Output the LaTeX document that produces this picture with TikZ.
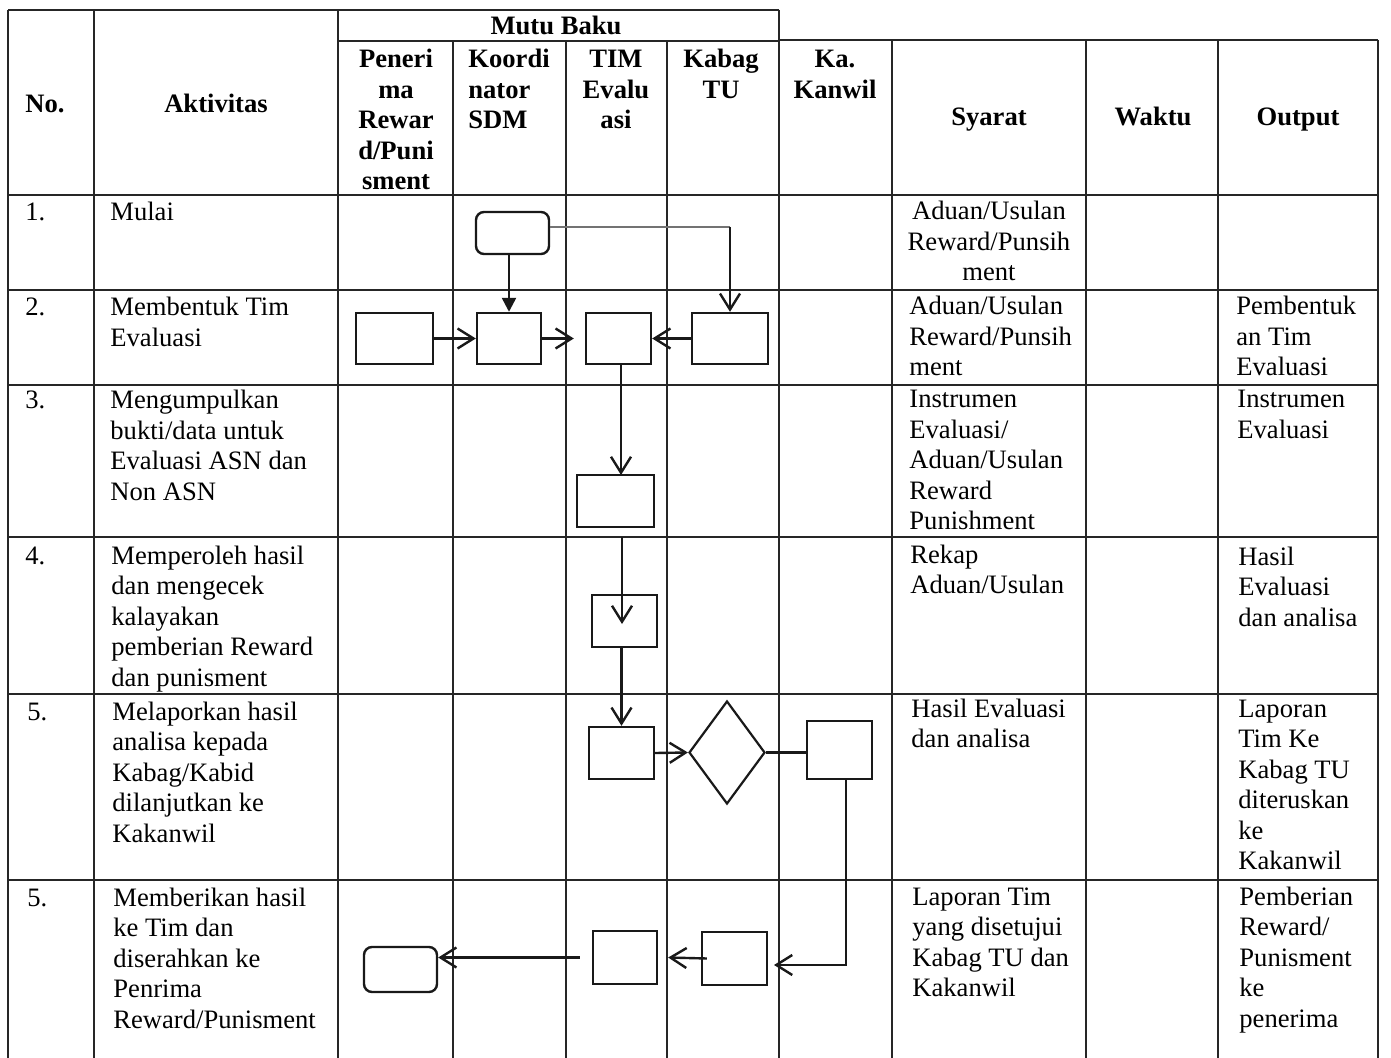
\documentclass[tikz,border=0pt]{standalone}
\usepackage{fontspec}
\setmainfont{Liberation Serif}
\usetikzlibrary{arrows.meta,shapes.geometric}
\newcommand\cl[1]{\begin{tabular}[t]{@{}l@{}}#1\end{tabular}}
\newcommand\cc[1]{\begin{tabular}[t]{@{}c@{}}#1\end{tabular}}
\begin{document}
\begin{tikzpicture}[x=0.5pt,y=-0.5pt,
  grid/.style={line width=0.8pt, draw=black!85},
  txt/.style={inner sep=0pt, font=\fontsize{13.3}{15.25}\selectfont, text=black},
  hd/.style={inner sep=0pt, font=\fontsize{13.3}{15.25}\selectfont\bfseries, text=black},
  proc/.style={draw=black!90, line width=1.2pt, inner sep=0pt, rectangle},
  term/.style={proc, rounded corners=4pt},
  dec/.style={draw=black!90, line width=1.1pt, inner sep=0pt, diamond},
  arr/.style={draw=black!90, line width=1.2pt, -{Straight Barb[length=8pt,width=10pt]}},
  arrf/.style={draw=black!90, line width=1.2pt, -{Triangle[length=7pt,width=7pt]}},
  ln/.style={draw=black!90, line width=1.2pt},
  thin/.style={draw=black!55, line width=0.6pt}]
\useasboundingbox (0,0) rectangle (1391,1058);
\fill[white] (0,0) rectangle (1391,1058);
% ---------------- table grid ----------------
\foreach \x in {8,94,338,779} \draw[grid] (\x,10) -- (\x,1058);
\foreach \x in {453,566,667} \draw[grid] (\x,41) -- (\x,1058);
\foreach \x in {892,1086,1218,1378} \draw[grid] (\x,40) -- (\x,1058);
\draw[grid] (8,10) -- (779,10);
\draw[grid] (779,40) -- (1378,40);
\draw[grid] (338,41) -- (779,41);
\foreach \y in {195,290,385,537,694,880} \draw[grid] (8,\y) -- (1378,\y);
% ---------------- header ----------------
\node[hd, anchor=base] (hmutu) at (556,35) {Mutu Baku};
\node[hd, anchor=base west] (hno) at (25,113) {No.};
\node[hd, anchor=base] (hakt) at (216,113) {Aktivitas};
\node[hd, anchor=base] (hpen) at (396,68) {\cc{Peneri\\ma\\Rewar\\d/Puni\\sment}};
\node[hd, anchor=base west] (hkoo) at (468,68) {\cl{Koordi\\nator\\SDM}};
\node[hd, anchor=base] (htim) at (616,68) {\cc{TIM\\Evalu\\asi}};
\node[hd, anchor=base] (hkab) at (721,68) {\cc{Kabag\\TU}};
\node[hd, anchor=base] (hkan) at (835,68) {\cc{Ka.\\Kanwil}};
\node[hd, anchor=base] (hsya) at (989,126) {Syarat};
\node[hd, anchor=base] (hwak) at (1153,126) {Waktu};
\node[hd, anchor=base] (hout) at (1298,126) {Output};
% ---------------- No. ----------------
\node[txt, anchor=base west] (n1) at (25,221) {1.};
\node[txt, anchor=base west] (n2) at (25,316) {2.};
\node[txt, anchor=base west] (n3) at (25,409) {3.};
\node[txt, anchor=base west] (n4) at (25,564) {4.};
\node[txt, anchor=base west] (n5) at (27,720) {5.};
\node[txt, anchor=base west] (n6) at (27,906) {5.};
% ---------------- Aktivitas ----------------
\node[txt, anchor=base west] (a1) at (110,221) {Mulai};
\node[txt, anchor=base west] (a2) at (110,316) {\cl{Membentuk Tim\\Evaluasi}};
\node[txt, anchor=base west] (a3) at (110,409) {\cl{Mengumpulkan\\bukti/data untuk\\Evaluasi ASN dan\\Non ASN}};
\node[txt, anchor=base west] (a4) at (111,564) {\cl{Memperoleh hasil\\dan mengecek\\kalayakan\\pemberian Reward\\dan punisment}};
\node[txt, anchor=base west] (a5) at (112,720) {\cl{Melaporkan hasil\\analisa kepada\\Kabag/Kabid\\dilanjutkan ke\\Kakanwil}};
\node[txt, anchor=base west] (a6) at (113,906) {\cl{Memberikan hasil\\ke Tim dan\\diserahkan ke\\Penrima\\Reward/Punisment}};
% ---------------- Syarat ----------------
\node[txt, anchor=base] (s1) at (989,220) {\cc{Aduan/Usulan\\Reward/Punsih\\ment}};
\node[txt, anchor=base west] (s2) at (909,315) {\cl{Aduan/Usulan\\Reward/Punsih\\ment}};
\node[txt, anchor=base west] (s3) at (909,408) {\cl{Instrumen\\Evaluasi/\\Aduan/Usulan\\Reward\\Punishment}};
\node[txt, anchor=base west] (s4) at (910,563) {\cl{Rekap\\Aduan/Usulan}};
\node[txt, anchor=base west] (s5) at (911,717) {\cl{Hasil Evaluasi\\dan analisa}};
\node[txt, anchor=base west] (s6) at (912,905) {\cl{Laporan Tim\\yang disetujui\\Kabag TU dan\\Kakanwil}};
% ---------------- Output ----------------
\node[txt, anchor=base west] (o2) at (1236,315) {\cl{Pembentuk\\an Tim\\Evaluasi}};
\node[txt, anchor=base west] (o3) at (1237,408) {\cl{Instrumen\\Evaluasi}};
\node[txt, anchor=base west] (o4) at (1238,565) {\cl{Hasil\\Evaluasi\\dan analisa}};
\node[txt, anchor=base west] (o5) at (1238,717) {\cl{Laporan\\Tim Ke\\Kabag TU\\diteruskan\\ke\\Kakanwil}};
\node[txt, anchor=base west] (o6) at (1239,905) {\cl{Pemberian\\Reward/\\Punisment\\ke\\penerima}};
% ---------------- flow shapes ----------------
\node[term, minimum width=36.5pt, minimum height=21pt] (start) at (512.5,233) {};
\node[proc, minimum width=38.5pt, minimum height=25.5pt] (A) at (394.5,338.5) {};
\node[proc, minimum width=32pt, minimum height=25.5pt] (B) at (509,338.5) {};
\node[proc, minimum width=32.5pt, minimum height=25.5pt] (C) at (618.5,338.5) {};
\node[proc, minimum width=38pt, minimum height=25.5pt] (D) at (730,338.5) {};
\node[proc, minimum width=38.5pt, minimum height=26pt] (E) at (615.5,501) {};
\node[proc, minimum width=32.5pt, minimum height=26pt] (F) at (624.5,621) {};
\node[proc, minimum width=32.5pt, minimum height=26pt] (G) at (621.5,753) {};
\node[dec, minimum width=38pt, minimum height=51.5pt] (dia) at (727,752.5) {};
\node[proc, minimum width=32.5pt, minimum height=29pt] (H) at (839.5,750) {};
\node[proc, minimum width=32.5pt, minimum height=26.5pt] (I) at (734.5,958.5) {};
\node[proc, minimum width=32pt, minimum height=26.5pt] (J) at (625,957.5) {};
\node[term, minimum width=36.5pt, minimum height=22.5pt] (K) at (400.5,969.5) {};
% ---------------- connectors ----------------
\coordinate (turn) at (730,227);
\draw[thin] (start.east |- turn) -- (turn);
\draw[arr] (turn) -- (D.north);
\draw[arrf] (start.south -| B.north) -- (B.north);
\draw[arr] (A.east) -- (B.west);
\draw[arr, shorten >=5.5pt] (B.east) -- (C.west);
\draw[arr] (D.west) -- (C.east);
\draw[arr] (621,364) -- (621,475);
\coordinate (f0) at (622,537);
\draw[arr] (f0) -- (622,624);
\draw[arr] (F.south -| G.north) -- (G.north);
\draw[arr] (G.east) -- (dia.west);
\draw[ln] (dia.east) -- (dia.east -| H.west);
\coordinate (hk) at (846,965);
\coordinate (ik) at (774,965);
\draw[arr] (H.south -| hk) -- (hk) -- (ik);
\draw[arr] ([xshift=3pt]I.west) -- ([xshift=5pt]J.east);
\draw[arr, shorten <=6pt] (J.west) -- (K.east |- J.west);
\end{tikzpicture}
\end{document}
